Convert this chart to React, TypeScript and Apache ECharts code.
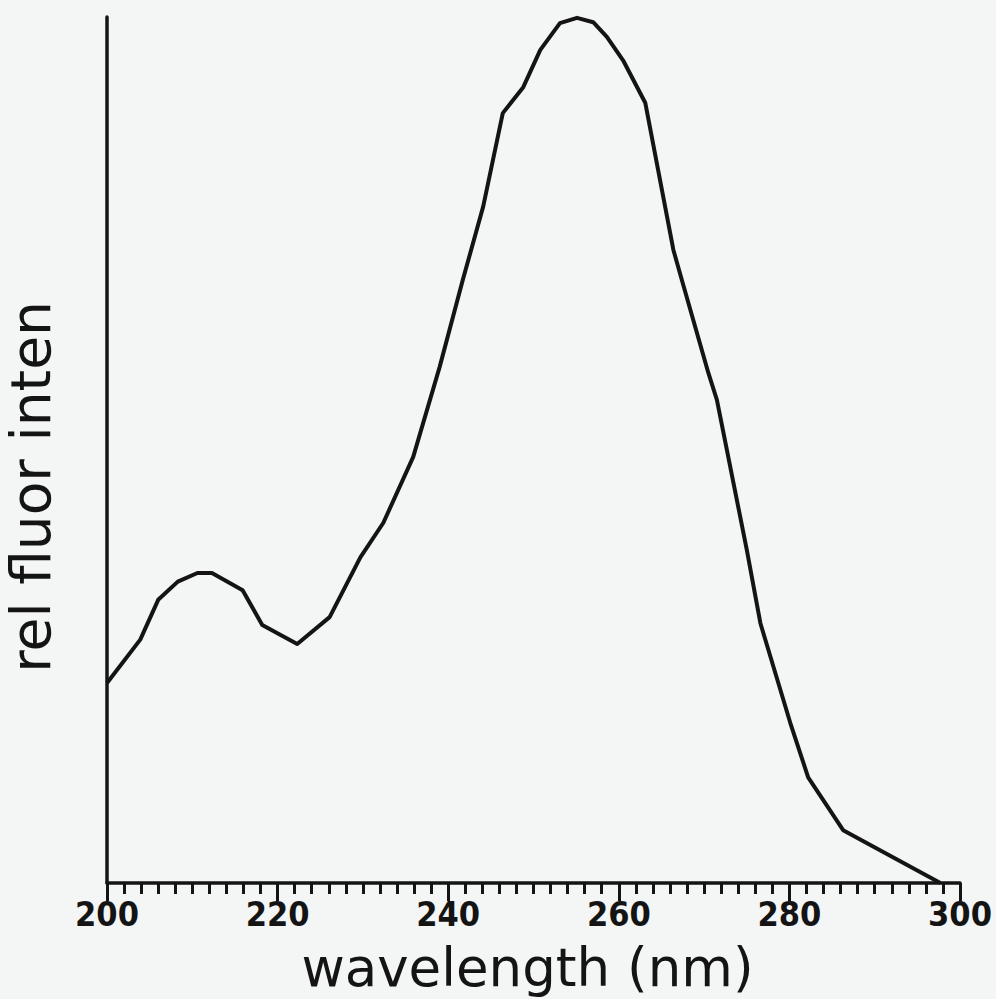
import React, { useEffect, useRef } from "react";
import * as echarts from "echarts";

const wavelengths = [
  200.0, 203.9, 206.0, 208.3, 210.6, 212.3, 215.9, 218.2, 222.3, 226.1, 229.7,
  232.4, 235.9, 239.0, 241.7, 244.1, 246.4, 248.8, 250.8, 253.1, 255.1, 257.0,
  258.6, 260.5, 263.1, 266.4, 267.4, 270.5, 271.5, 275.0, 276.6, 280.1, 282.2,
  286.3, 297.7,
];
const intensity = [
  23.1, 28.1, 32.7, 34.8, 35.8, 35.8, 33.8, 29.8, 27.6, 30.7, 37.6, 41.6, 49.2,
  59.6, 69.6, 78.1, 88.9, 91.9, 96.2, 99.3, 99.9, 99.4, 97.7, 95.0, 90.1, 73.1,
  69.6, 58.9, 55.8, 38.5, 30.0, 18.5, 12.2, 6.1, 0.0,
];
const xAxisName = "wavelength (nm)";
const yAxisName = "rel fluor inten";

export default function App() {
  const ref = useRef<HTMLDivElement>(null);
  useEffect(() => {
    if (!ref.current) return;
    const chart = echarts.init(ref.current, null, { renderer: "svg" });
    const ink = "#141414";
    chart.setOption({
      animation: false,
      backgroundColor: "#f4f5f5",
      grid: {
        left: 107,
        right: 36,
        top: 17,
        bottom: 116,
        containLabel: false,
        outerBoundsMode: "none",
      },
      xAxis: {
        type: "value",
        min: 200,
        max: 300,
        interval: 20,
        name: xAxisName,
        nameLocation: "middle",
        nameGap: 58,
        nameTextStyle: {
          fontFamily: "DejaVu Sans",
          fontSize: 53,
          color: ink,
          padding: [0, 12, 0, 0],
        },
        axisLine: { lineStyle: { color: ink, width: 3.5 } },
        axisTick: { show: true, length: 18, lineStyle: { color: ink, width: 3 } },
        minorTick: { show: true, splitNumber: 10, length: 11, lineStyle: { color: ink, width: 3 } },
        axisLabel: {
          margin: 14,
          fontFamily: "DejaVu Sans Condensed",
          fontWeight: "bold",
          fontSize: 34,
          color: ink,
        },
        splitLine: { show: false },
      },
      yAxis: {
        type: "value",
        min: 0,
        max: 100,
        name: yAxisName,
        nameLocation: "middle",
        nameGap: 49,
        nameTextStyle: {
          fontFamily: "DejaVu Sans",
          fontSize: 55,
          color: ink,
          padding: [0, 74, 0, 0],
        },
        axisLine: { show: true, lineStyle: { color: ink, width: 3.5, cap: "round" } },
        axisTick: { show: false },
        axisLabel: { show: false },
        splitLine: { show: false },
      },
      series: [
        {
          type: "line",
          data: wavelengths.map((w, i) => [w, intensity[i]]),
          showSymbol: false,
          lineStyle: { color: ink, width: 4, join: "round" },
          clip: false,
        },
      ],
    });
    return () => chart.dispose();
  }, []);
  return (
    <div
      ref={ref}
      style={{ position: "fixed", left: 0, top: 0, width: 996, height: 999 }}
    />
  );
}
